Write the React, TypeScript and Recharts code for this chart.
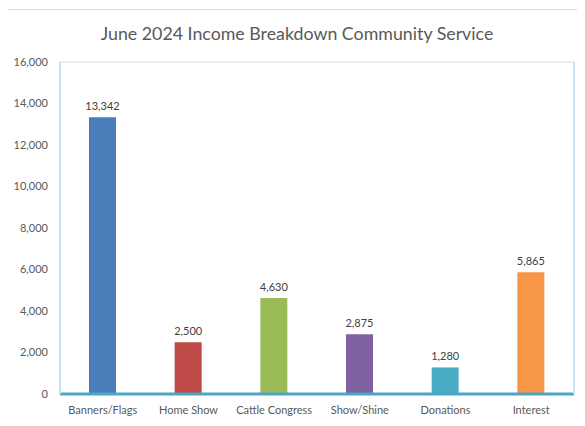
import React from "react";
import {
  BarChart,
  Bar,
  XAxis,
  YAxis,
  CartesianGrid,
  Cell,
  LabelList,
} from "recharts";

// Income sources and amounts (June 2024)
const categories = [
  "Banners/Flags",
  "Home Show",
  "Cattle Congress",
  "Show/Shine",
  "Donations",
  "Interest",
];
const amounts = [13342, 2500, 4630, 2875, 1280, 5865];
const barColors = ["#4a7ebb", "#be4b48", "#9bbb59", "#7f60a0", "#4bacc6", "#f79646"];
const yTicks = [0, 2000, 4000, 6000, 8000, 10000, 12000, 14000, 16000];

const data = categories.map((name, i) => ({ name, amount: amounts[i] }));

const fmt = (v: number) => v.toLocaleString("en-US");
const FONT = "Lato, 'Open Sans', sans-serif";

export default function App() {
  return (
    <div
      style={{
        position: "relative",
        width: 585,
        height: 426,
        margin: -8,
        background: "#fff",
        fontFamily: FONT,
        overflow: "hidden",
      }}
    >
      {/* outer chart frame */}
      <div
        style={{
          position: "absolute",
          left: 5,
          top: 9,
          width: 600,
          height: 415,
          border: "1px solid #d9d9d9",
        }}
      />
      <div
        style={{
          position: "absolute",
          top: 22,
          left: 0,
          width: 594,
          textAlign: "center",
          fontSize: 17.8,
          color: "#595959",
        }}
      >
        June 2024 Income Breakdown Community Service
      </div>
      <div style={{ position: "absolute", left: 0, top: 0 }}>
        <BarChart
          width={585}
          height={426}
          data={data}
          margin={{ top: 62, right: 10, bottom: 0, left: 0 }}
          barSize={27}
        >
          <CartesianGrid vertical={false} stroke="#d9d9d9" />
          <XAxis
            dataKey="name"
            axisLine={{ stroke: "#4aa6c4", strokeWidth: 3 }}
            tickLine={false}
            tick={{ fill: "#595959", fontSize: 11, fontFamily: FONT }}
            tickMargin={6}
            height={32}
            interval={0}
          />
          <YAxis
            yAxisId="left"
            domain={[0, 16000]}
            ticks={yTicks}
            width={60}
            axisLine={{ stroke: "#c6e4ef", strokeWidth: 2 }}
            tickLine={false}
            tickMargin={6}
            tickFormatter={fmt}
            tick={{ fill: "#595959", fontSize: 11, fontFamily: FONT }}
          />
          <YAxis
            yAxisId="right"
            orientation="right"
            domain={[0, 16000]}
            width={1}
            axisLine={{ stroke: "#c6e4ef", strokeWidth: 2 }}
            tickLine={false}
            tick={false}
          />
          <Bar dataKey="amount" yAxisId="left" isAnimationActive={false}>
            {data.map((d, i) => (
              <Cell key={d.name} fill={barColors[i]} />
            ))}
            <LabelList
              dataKey="amount"
              position="top"
              offset={7}
              formatter={(v: number) => fmt(v)}
              style={{ fill: "#404040", fontSize: 11, fontFamily: FONT }}
            />
          </Bar>
        </BarChart>
      </div>
    </div>
  );
}
